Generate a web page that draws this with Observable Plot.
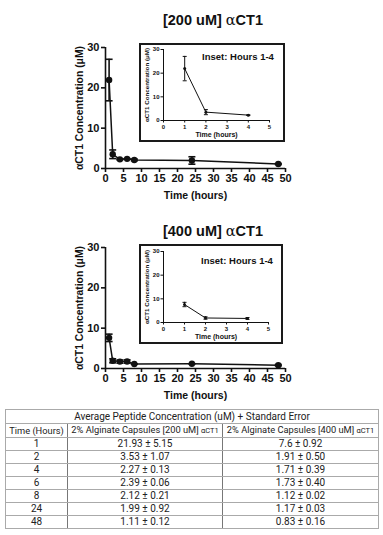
<!DOCTYPE html>
<html>
<head>
<meta charset="utf-8">
<script src="https://cdn.jsdelivr.net/npm/d3@7"></script>
<script src="https://cdn.jsdelivr.net/npm/@observablehq/plot@0.6"></script>
<style>
  html, body { margin: 0; padding: 0; background: #fff; }
  #root { position: relative; width: 383px; height: 535px; overflow: hidden; font-family: "Liberation Sans", Arial, sans-serif; color: #111; }
  .abs { position: absolute; }
  .title { font-size: 14.5px; font-weight: bold; white-space: nowrap; transform: translateX(-50%); line-height: 1; }
  .title .alpha { font-weight: normal; font-family: "DejaVu Serif", serif; }
  .inset { border: 2px solid #1a1a1a; box-sizing: border-box; background: #fff; }
  .inset-title { font-size: 9.5px; font-weight: bold; white-space: nowrap; transform: translate(-50%, -50%); }
  table.summary { border-collapse: collapse; font-family: "Liberation Sans Narrow", Roboto, sans-serif; font-size: 10px; color: #222; table-layout: fixed; }
  table.summary td { border: 1px solid #aaa; text-align: center; padding: 0; line-height: 12px; white-space: nowrap; }
  table.summary tr { height: 13px; }
  table.summary { border: 1.5px solid #555; }
  table.summary td.sep { border-right: 1px solid #777; }
  table.summary tr.head2 td { font-size: 9.3px; }
  .small { font-size: 7.5px; }
</style>
</head>
<body>
<div id="root"></div>
<script>
// Sampling times (hours)
const hours = [1, 2, 4, 6, 8, 24, 48];
// Mean concentration and standard error, 200 uM capsules
const mean200 = ["21.93", "3.53", "2.27", "2.39", "2.12", "1.99", "1.11"];
const se200   = ["5.15", "1.07", "0.13", "0.06", "0.21", "0.92", "0.12"];
// Mean concentration and standard error, 400 uM capsules
const mean400 = ["7.6", "1.91", "1.71", "1.73", "1.12", "1.17", "0.83"];
const se400   = ["0.92", "0.50", "0.39", "0.40", "0.02", "0.03", "0.16"];
// Axis ticks
const mainXTicks = [0, 5, 10, 15, 20, 25, 30, 35, 40, 45, 50];
const insetXTicks = [0, 1, 2, 3, 4, 5];
const yTicks = [0, 10, 20, 30];
const insetHours = 4;

const yLabel = "\u03b1CT1 Concentration (\u03bcM)";
const xLabel = "Time (hours)";

function series(means, ses) {
  return hours.map((t, i) => ({t, m: +means[i], se: +ses[i]}));
}

// Horizontal bar used as an error-bar cap
const cap = {
  draw(ctx, size) {
    const w = Math.sqrt(size / Math.PI);
    ctx.moveTo(-w, 0);
    ctx.lineTo(w, 0);
  }
};

const intFmt = d3.format("d");

function chartMarks(data, o) {
  return [
    Plot.axisX({ticks: o.xTicks, tickFormat: intFmt, tickSize: o.tick, tickPadding: o.pad, fontSize: o.font, fontWeight: "bold", strokeWidth: o.axisW, label: null}),
    Plot.axisY({ticks: yTicks, tickFormat: intFmt, tickSize: o.tick, tickPadding: o.pad, fontSize: o.font, fontWeight: "bold", strokeWidth: o.axisW, label: null}),
    Plot.ruleY([0], {strokeWidth: o.axisW, stroke: "#111"}),
    Plot.ruleX([0], {strokeWidth: o.axisW, stroke: "#111"}),
    Plot.line(data, {x: "t", y: "m", stroke: "#111", strokeWidth: o.lineW}),
    Plot.ruleX(data, {x: "t", y1: d => d.m - d.se, y2: d => d.m + d.se, stroke: "#111", strokeWidth: o.errW}),
    Plot.dot(data, {x: "t", y: d => d.m + d.se, symbol: cap, r: o.capR, stroke: "#111", fill: "none", strokeWidth: o.errW}),
    Plot.dot(data, {x: "t", y: d => d.m - d.se, symbol: cap, r: o.capR, stroke: "#111", fill: "none", strokeWidth: o.errW}),
    Plot.dot(data, {x: "t", y: "m", r: o.dotR, fill: "#111"}),
    Plot.text([xLabel], {frameAnchor: "bottom", dy: o.xLabDy, fontSize: o.labFont, fontWeight: "bold", fill: "#111"}),
    Plot.text([yLabel], {frameAnchor: "left", textAnchor: "middle", rotate: -90, dx: o.yLabDx, fontSize: o.yLabFont, fontWeight: "bold", fill: "#111"})
  ];
}

function panel(root, cfg) {
  const data = series(cfg.means, cfg.ses);
  const wrap = document.createElement("div");
  wrap.className = "abs";
  wrap.style.left = "0px";
  wrap.style.top = cfg.top + "px";
  wrap.style.width = "383px";
  root.appendChild(wrap);

  const title = document.createElement("div");
  title.className = "abs title";
  title.style.left = "213px";
  title.style.top = cfg.titleTop + "px";
  title.innerHTML = cfg.title;
  wrap.appendChild(title);

  const main = Plot.plot({
    width: 300, height: 205,
    marginLeft: 105, marginRight: 15, marginTop: 47, marginBottom: 37,
    style: {fontFamily: "Liberation Sans, Arial, sans-serif", color: "#111", background: "transparent"},
    x: {domain: [0, 50]},
    y: {domain: [0, 30]},
    marks: chartMarks(data, {xTicks: mainXTicks, tick: 4, pad: 2, font: 11, axisW: 1.6, lineW: 1.5, errW: 1.6, capR: 3.5, dotR: 3.2, labFont: 10.5, xLabDy: 30, yLabFont: 10.4, yLabDx: -26})
  });
  main.style.position = "absolute";
  main.style.left = "0px";
  main.style.top = "0px";
  wrap.appendChild(main);

  const ib = cfg.inset;
  const box = document.createElement("div");
  box.className = "abs inset";
  box.style.left = ib.left + "px";
  box.style.top = ib.top + "px";
  box.style.width = ib.w + "px";
  box.style.height = ib.h + "px";
  wrap.appendChild(box);

  const inset = Plot.plot({
    width: ib.w - 4, height: ib.h - 4,
    marginLeft: ib.ml, marginRight: ib.mr, marginTop: ib.mt, marginBottom: ib.mb,
    style: {fontFamily: "Liberation Sans, Arial, sans-serif", color: "#111", background: "transparent"},
    x: {domain: [0, 5]},
    y: {domain: [0, 30]},
    marks: chartMarks(data.filter(d => d.t <= insetHours), {xTicks: insetXTicks, tick: 2.5, pad: 1.5, font: 6, axisW: 1, lineW: 1, errW: 1, capR: 2, dotR: 1.5, labFont: 7, xLabDy: 16, yLabFont: 6.2, yLabDx: -16})
  });
  inset.style.position = "absolute";
  inset.style.left = "0px";
  inset.style.top = "0px";
  box.appendChild(inset);

  const it = document.createElement("div");
  it.className = "abs inset-title";
  it.style.left = ib.titleX + "px";
  it.style.top = ib.titleY + "px";
  it.textContent = "Inset: Hours 1-4";
  box.appendChild(it);
}

const root = document.getElementById("root");

panel(root, {
  top: 0, titleTop: 13,
  title: '[200 uM] <span class="alpha">\u03b1</span>CT1',
  means: mean200, ses: se200,
  inset: {left: 139, top: 43, w: 146, h: 99, ml: 22, mr: 14, mt: 4, mb: 20, titleX: 97, titleY: 11}
});

panel(root, {
  top: 200, titleTop: 24,
  title: '[400 uM] <span class="alpha">\u03b1</span>CT1',
  means: mean400, ses: se400,
  inset: {left: 139, top: 44, w: 144, h: 100, ml: 22, mr: 13, mt: 5, mb: 20, titleX: 96, titleY: 14}
});

// Summary table
const table = document.createElement("table");
table.className = "abs summary";
table.style.left = "5px";
table.style.top = "409px";
table.style.width = "373px";
const colW = [62, 155, 156];
const cg = document.createElement("colgroup");
colW.forEach(w => { const c = document.createElement("col"); c.style.width = w + "px"; cg.appendChild(c); });
table.appendChild(cg);

const h1 = table.insertRow();
h1.style.height = "14px";
const hc = h1.insertCell();
hc.colSpan = 3;
hc.textContent = "Average Peptide Concentration (uM) + Standard Error";

const h2 = table.insertRow();
h2.className = "head2";
const heads = ["Time (Hours)", '2% Alginate Capsules [200 uM] <span class="small">\u03b1CT1</span>', '2% Alginate Capsules [400 uM] <span class="small">\u03b1CT1</span>'];
heads.forEach((h, i) => {
  const c = h2.insertCell();
  c.innerHTML = h;
  if (i < 2) c.className = "sep";
});

hours.forEach((t, i) => {
  const r = table.insertRow();
  const cells = [String(t), `${mean200[i]} \u00b1 ${se200[i]}`, `${mean400[i]} \u00b1 ${se400[i]}`];
  cells.forEach((v, j) => {
    const c = r.insertCell();
    c.textContent = v;
    if (j < 2) c.className = "sep";
  });
});
root.appendChild(table);
</script>
</body>
</html>
